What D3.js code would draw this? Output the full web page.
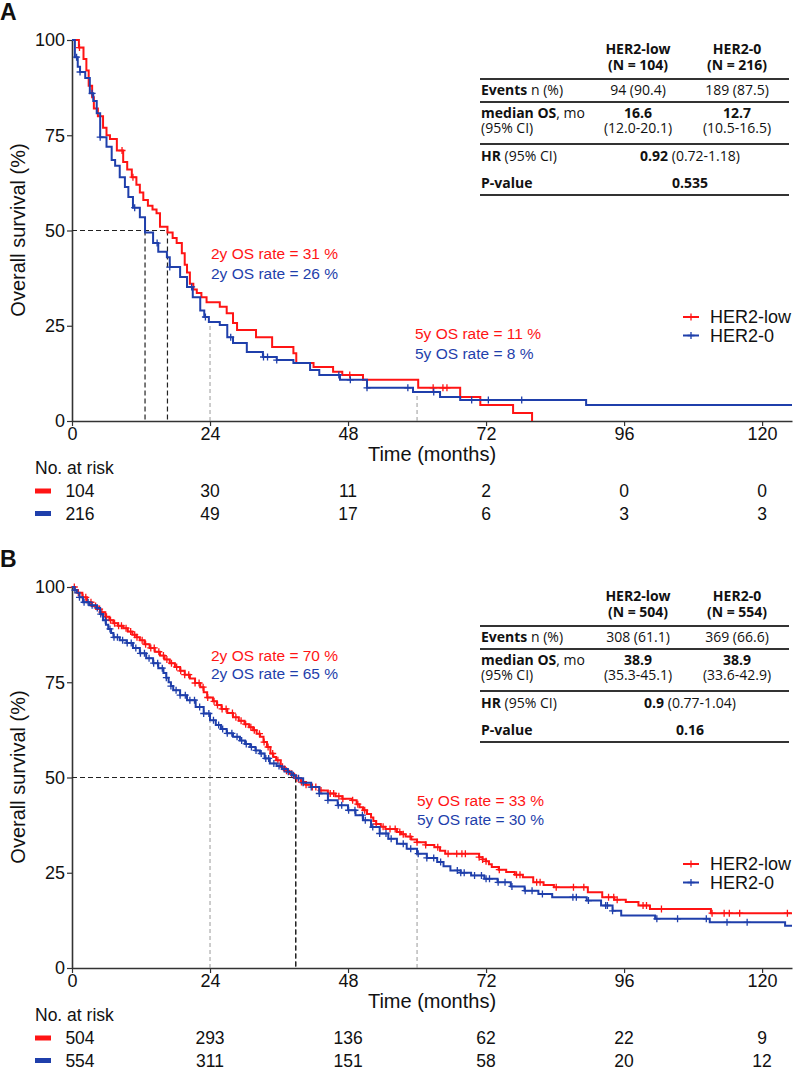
<!DOCTYPE html>
<html>
<head>
<meta charset="utf-8">
<script src="https://cdn.jsdelivr.net/npm/d3@7"></script>
<style>
body { margin: 0; background: #fff; }
svg text { font-family: "Liberation Sans", Arial, sans-serif; fill: #111; }
.tbl text { font-family: "Open Sans", sans-serif; font-size: 14px; }
</style>
</head>
<body>
<script>
var timeTicks = [0, 24, 48, 72, 96, 120];
var survTicks = [0, 25, 50, 75, 100];
var groupNames = ['HER2-low', 'HER2-0'];

// ---- panel A : [months, survival %] at each step
var aLowSteps = [[0,100],[1.2,98],[2.0,95],[2.5,92],[2.9,88],[3.5,85],[3.8,82],[4.5,80],[5.4,77],[6.0,75],[6.6,74],[7.8,71],[8.9,68],[9.6,66],[10.4,64],[11.2,62],[11.8,60],[12.4,58],[13.2,56.5],[14.0,55.5],[14.7,54.5],[15.3,51],[16.6,49.5],[17.5,48],[18.2,46.7],[19.1,44],[19.6,41],[20.0,39],[20.5,36],[21.1,34.5],[21.7,33.6],[22.5,32.5],[23.4,31.2],[25.7,30],[26.9,28.3],[28.0,25.7],[28.7,23.9],[32.0,22],[34.8,19.4],[38.5,17.8],[39.0,15.2],[42.0,14.2],[45.4,12.9],[47.0,12.1],[50.6,10.8],[60.2,8.7],[67.5,6.3],[71.0,4.2],[76.7,2.1],[80.0,0]];
var aZeroSteps = [[0,100],[0.5,95.5],[1.0,93],[1.4,91.6],[2.3,90],[3.1,86],[3.7,84],[4.3,80.8],[4.9,74.5],[6.0,72],[6.9,68.5],[7.5,67],[8.3,64],[9.2,61.4],[9.8,58.8],[10.6,56],[11.8,53.5],[12.7,49.5],[14.1,46.7],[15.0,44.4],[16.5,43],[17.0,40.4],[18.8,37.8],[20.0,35.2],[21.0,32.5],[22.3,29],[23.0,27.3],[23.8,26],[25.7,25.2],[27.0,22],[28.0,20.5],[30.4,18.1],[33.2,16.8],[35.6,16],[38.5,15.2],[41.4,13.4],[43.0,12.1],[46.6,10.8],[51.3,8.7],[59.3,7.6],[64.0,6.3],[67.5,5.5],[89.4,4.2]];
var aLowCensor = [1.3, 8.7, 10.6, 48.3, 62.8, 64.5, 65.2];
var aZeroCensor = [0.8, 1.4, 3.5, 4.9, 10.9, 14.8, 17, 20.8, 23.2, 27.6, 33.3, 34.0, 35.6, 46.4, 48.4, 51.3, 58.4, 62.9, 69.5, 72.4, 78.2];
var aRiskLow = [104, 30, 11, 2, 0, 0];
var aRiskZero = [216, 49, 17, 6, 3, 3];
var aMedians = [16.6, 12.7];
var aRate2y = [31, 26];
var aRate5y = [11, 8];
var aHeadN = ['(N = 104)', '(N = 216)'];
var aEvents = ['94 (90.4)', '189 (87.5)'];
var aMedOS = ['16.6', '12.7'];
var aMedCI = ['(12.0-20.1)', '(10.5-16.5)'];
var aHR = ['0.92', ' (0.72-1.18)'];
var aP = '0.535';

// ---- panel B
var bLowSteps = [[0,100],[0.5,99.2],[1.0,98.5],[1.8,97.3],[2.6,96],[3.4,95],[4.2,94.2],[4.9,93.4],[5.8,92.2],[6.5,91.3],[7.2,90.5],[8.0,89.8],[8.9,89.2],[9.7,88.3],[10.5,87.5],[11.2,86.8],[11.8,86],[12.6,85],[13.5,84],[14.4,83],[15.3,82],[16.1,81],[17.0,80],[17.9,79],[18.8,78],[19.6,77],[20.5,76],[21.4,74.8],[22.3,73.7],[22.9,72.4],[23.5,71],[24.5,70],[25.2,69],[26.0,68],[27.0,66.9],[28.0,65.8],[29.0,64.9],[30.0,64],[30.8,63.2],[31.5,62.4],[32.1,61.5],[32.7,60.7],[33.3,59.3],[33.9,58],[34.5,56.3],[35.0,55.4],[35.5,54.5],[36.3,52.8],[37.0,51.8],[37.8,51],[38.6,50.2],[38.9,49.8],[39.8,48.8],[40.7,48.1],[41.6,47.5],[43.0,46.6],[44.5,45.8],[45.8,45.1],[47.0,44.4],[48.7,44],[49.5,43],[50.0,42.2],[50.6,41.4],[51.3,40.4],[52.0,39.5],[52.4,38.6],[52.9,37.8],[53.7,37.1],[54.5,36.5],[56.5,35.7],[57.2,35.1],[58.0,34.5],[59.0,33.7],[60.0,33],[61.5,32.3],[63.0,31.7],[64.0,30.8],[64.9,30],[70.8,29.1],[71.4,28.5],[72.0,28],[72.5,27.2],[73.0,26.5],[74.2,25.8],[75.5,25.2],[77.0,24.5],[78.4,23.8],[80.2,22.5],[82.0,21.8],[83.8,21.2],[89.7,19.9],[92.2,18.6],[94.3,17.9],[96.3,17.3],[98.5,16.4],[100.5,15.5],[111.1,14.4]];
var bZeroSteps = [[0,100],[0.4,99.2],[0.8,98.5],[1.3,97.3],[1.9,96],[3.0,95.2],[4.3,94.5],[4.9,92.9],[5.4,91.3],[5.9,90.1],[6.3,89],[6.8,87.9],[7.2,86.8],[8.3,86],[9.5,85.3],[10.6,84],[11.8,82.6],[12.9,81.3],[14.1,80],[15.0,78.7],[15.9,77.4],[16.4,76.2],[16.8,75],[17.2,74],[17.6,72.9],[18.8,71.6],[20.0,70.3],[21.5,68.5],[22.9,66.8],[24.0,65],[25.0,63.8],[25.9,62.7],[26.9,61.6],[28.0,60.7],[29.2,59.7],[30.1,58.8],[31.0,58],[31.9,57.1],[32.7,56.3],[33.5,55],[34.4,53.7],[35.6,53],[36.5,52.2],[37.5,51.5],[38.2,50.6],[38.9,49.8],[40.2,48.6],[41.6,47.5],[43.0,45.8],[44.5,44],[46.2,42.7],[48.0,41.4],[49.3,40.1],[50.6,38.8],[52.0,37],[53.5,35.3],[55.0,33.9],[56.5,32.6],[58.2,31.3],[60.0,30],[61.7,28.9],[63.5,27.8],[64.6,26.7],[65.8,25.6],[67.6,25],[69.4,24.3],[71.7,23.4],[74.0,22.5],[76.3,21.4],[78.7,20.3],[81.1,19.4],[83.5,18.6],[89.5,17.7],[92.0,16.4],[94.0,15],[95.5,13.8],[101.4,12.9],[110.9,12],[124.0,11.1]];
var bLowCensor = [0.4,1.1,1.9,2.4,3.3,4.1,4.8,5.2,6.0,6.7,7.4,8.1,8.6,9.4,10.2,10.9,11.3,12.2,12.8,13.7,14.3,15.1,15.9,16.5,17.3,18.2,18.9,19.6,20.3,21.4,22.1,22.8,23.6,24.7,25.3,26.1,26.8,27.9,28.5,29.4,30.2,31.1,31.7,32.6,33.4,34.1,34.9,35.8,36.6,37.3,38.2,39.1,39.9,40.7,41.8,42.4,43.3,44.9,45.5,46.4,47.1,48.8,49.7,50.9,52.9,54.1,55.3,56.2,57.0,57.6,58.8,60.0,61.5,63.6,65.4,66.9,67.8,68.4,70.8,71.4,72.0,74.3,77.3,77.9,80.8,81.4,84.2,87.2,89.0,93.3,94.2,94.8,99.3,99.9,102.5,111.3,113.4,114.3,116.1,124.4];
var bZeroCensor = [0.5,1.3,2.1,2.8,3.5,4.4,5.0,5.8,6.6,7.3,7.9,8.8,9.6,10.3,11.1,11.9,12.6,13.4,14.2,14.9,15.7,16.4,17.2,18.1,18.8,19.7,20.5,21.3,22.2,22.9,23.8,24.6,25.5,26.2,27.0,27.8,28.7,29.5,30.3,31.2,32.0,32.9,33.7,34.2,35.1,36.0,36.9,37.6,38.5,39.4,40.2,41.6,43.0,44.5,46.3,46.9,48.1,49.2,50.5,51.0,52.3,53.5,54.6,55.5,57.6,58.9,60.2,61.7,62.9,64.1,67.0,67.6,68.2,70.0,71.2,72.0,72.6,74.1,75.3,76.5,78.8,80.0,81.8,87.1,87.7,89.8,92.8,93.1,94.0,101.7,105.3,110.3,113.9,117.4];
var bRiskLow = [504, 293, 136, 62, 22, 9];
var bRiskZero = [554, 311, 151, 58, 20, 12];
var bMedians = [38.9, 38.9];
var bRate2y = [70, 65];
var bRate5y = [33, 30];
var bHeadN = ['(N = 504)', '(N = 554)'];
var bEvents = ['308 (61.1)', '369 (66.6)'];
var bMedOS = ['38.9', '38.9'];
var bMedCI = ['(35.3-45.1)', '(33.6-42.9)'];
var bHR = ['0.9', ' (0.77-1.04)'];
var bP = '0.16';

var colors = ['#ff1414', '#1f3fab'];
var xMax = 125.2;

var svg = d3.select('body').append('svg')
  .attr('width', 795)
  .attr('height', 1072);

var x = d3.scaleLinear().domain([0, xMax]).range([72, 792]);
var y = d3.scaleLinear().domain([0, 100]).range([421, 40]);

function survAt(steps, t) {
  var s = steps[0][1];
  for (var i = 0; i < steps.length; i++) {
    if (steps[i][0] <= t) s = steps[i][1];
  }
  return s;
}

var plus = 'M-3.5,0H3.5M0,-3.5V3.5';

function drawPanel(p) {
  var g = svg.append('g').attr('transform', 'translate(0,' + p.oy + ')');

  g.append('text')
    .attr('x', 0).attr('y', 20)
    .style('font-size', '23px').style('font-weight', 'bold')
    .text(p.letter);

  // axes
  var yAxis = g.append('g')
    .attr('transform', 'translate(72,0)')
    .call(d3.axisLeft(y).tickValues(survTicks).tickSize(5).tickSizeOuter(0).tickPadding(2));
  var xAxis = g.append('g')
    .attr('transform', 'translate(0,421)')
    .call(d3.axisBottom(x).tickValues(timeTicks).tickSize(5).tickSizeOuter(0).tickPadding(1.5));
  [xAxis, yAxis].forEach(function(a) {
    a.select('.domain').attr('stroke', '#333').attr('stroke-width', 1.6);
    a.selectAll('.tick line').attr('stroke', '#333').attr('stroke-width', 1.2);
    a.selectAll('.tick text').style('font-size', '18px').attr('fill', '#111')
      .style('font-family', '"Liberation Sans", Arial, sans-serif');
  });

  g.append('text')
    .attr('transform', 'translate(25,230) rotate(-90)')
    .attr('text-anchor', 'middle')
    .style('font-size', '20px')
    .text('Overall survival (%)');

  g.append('text')
    .attr('x', 432).attr('y', 461)
    .attr('text-anchor', 'middle')
    .style('font-size', '20px')
    .text('Time (months)');

  // landmark lines at 2y and 5y
  [24, 60].forEach(function(t) {
    var top = Math.min(survAt(p.steps[0], t), survAt(p.steps[1], t));
    g.append('line')
      .attr('x1', x(t)).attr('x2', x(t))
      .attr('y1', y(0)).attr('y2', y(top))
      .attr('stroke', '#9a9a9a').attr('stroke-width', 1)
      .attr('stroke-dasharray', '4,3');
  });

  // median lines
  g.append('line')
    .attr('x1', x(0)).attr('x2', x(d3.max(p.medians)))
    .attr('y1', y(50)).attr('y2', y(50))
    .attr('stroke', '#222').attr('stroke-width', 1.2)
    .attr('stroke-dasharray', '5,3');
  p.medians.forEach(function(m) {
    g.append('line')
      .attr('x1', x(m)).attr('x2', x(m))
      .attr('y1', y(50)).attr('y2', y(0))
      .attr('stroke', '#222').attr('stroke-width', 1.2)
      .attr('stroke-dasharray', '5,3');
  });

  var line = d3.line()
    .x(function(d) { return x(d[0]); })
    .y(function(d) { return y(d[1]); })
    .curve(d3.curveStepAfter);

  p.steps.forEach(function(steps, i) {
    var pts = steps.slice();
    var last = pts[pts.length - 1];
    if (last[1] > 0) pts.push([xMax, last[1]]);
    g.append('path')
      .datum(pts)
      .attr('d', line)
      .attr('fill', 'none')
      .attr('stroke', colors[i])
      .attr('stroke-width', 2);

    g.selectAll(null)
      .data(p.censor[i])
      .enter()
      .append('path')
      .attr('d', plus)
      .attr('transform', function(t) {
        return 'translate(' + x(t) + ',' + y(survAt(steps, t)) + ')';
      })
      .attr('stroke', colors[i])
      .attr('stroke-width', 1.3);
  });

  // rate annotations
  [0, 1].forEach(function(i) {
    g.append('text')
      .attr('x', p.ann2y[0]).attr('y', p.ann2y[1] + i * p.ann2y[2])
      .style('font-size', '15.5px').style('fill', colors[i])
      .text('2y OS rate = ' + p.rate2y[i] + ' %');
    g.append('text')
      .attr('x', p.ann5y[0]).attr('y', p.ann5y[1] + i * p.ann5y[2])
      .style('font-size', '15.5px').style('fill', colors[i])
      .text('5y OS rate = ' + p.rate5y[i] + ' %');
  });

  // legend
  groupNames.forEach(function(name, i) {
    var cy = 317 + i * 18.5;
    g.append('line')
      .attr('x1', 683).attr('x2', 699)
      .attr('y1', cy).attr('y2', cy)
      .attr('stroke', colors[i]).attr('stroke-width', 2);
    g.append('path')
      .attr('d', plus)
      .attr('transform', 'translate(691,' + cy + ')')
      .attr('stroke', colors[i]).attr('stroke-width', 1.3);
    g.append('text')
      .attr('x', 710).attr('y', cy + 6.3)
      .style('font-size', '18px')
      .text(name);
  });

  // number at risk
  g.append('text')
    .attr('x', 35).attr('y', 474)
    .style('font-size', '17.5px')
    .text('No. at risk');
  p.risk.forEach(function(row, i) {
    var base = 497 + i * 22.5;
    g.append('rect')
      .attr('x', 35).attr('y', base - 8.5)
      .attr('width', 16).attr('height', 5)
      .attr('fill', colors[i]);
    g.selectAll(null)
      .data(row)
      .enter()
      .append('text')
      .attr('x', function(d, j) { return x(timeTicks[j]) + (j === 0 ? 8 : 0); })
      .attr('y', base)
      .attr('text-anchor', 'middle')
      .style('font-size', '17.5px')
      .text(function(d) { return d; });
  });

  // summary table
  var tb = g.append('g').attr('class', 'tbl');
  var c1 = 638, c2 = 737, cm = 690, lx = 481;
  [[c1, groupNames[0], p.headN[0]], [c2, groupNames[1], p.headN[1]]].forEach(function(h) {
    tb.append('text').attr('x', h[0]).attr('y', 54).attr('text-anchor', 'middle')
      .style('font-weight', 'bold').text(h[1]);
    tb.append('text').attr('x', h[0]).attr('y', 70).attr('text-anchor', 'middle')
      .style('font-weight', 'bold').text(h[2]);
  });
  [79, 102, 144, 195].forEach(function(ry) {
    tb.append('line')
      .attr('x1', 480).attr('x2', 789)
      .attr('y1', ry).attr('y2', ry)
      .attr('stroke', '#333').attr('stroke-width', 1.8);
  });
  function rich(xp, yp, parts, anchor) {
    var t = tb.append('text').attr('x', xp).attr('y', yp).attr('text-anchor', anchor || 'start');
    parts.forEach(function(pt) {
      t.append('tspan').style('font-weight', pt[1] ? 'bold' : 'normal').text(pt[0]);
    });
  }
  rich(lx, 95, [['Events', 1], [' n (%)', 0]]);
  rich(lx, 118, [['median OS', 1], [', mo', 0]]);
  rich(lx, 133, [['(95% CI)', 0]]);
  rich(lx, 161, [['HR', 1], [' (95% CI)', 0]]);
  rich(lx, 188, [['P-value', 1]]);
  rich(c1, 95, [[p.events[0], 0]], 'middle');
  rich(c2, 95, [[p.events[1], 0]], 'middle');
  rich(c1, 118, [[p.medOS[0], 1]], 'middle');
  rich(c2, 118, [[p.medOS[1], 1]], 'middle');
  rich(c1, 133, [[p.medCI[0], 0]], 'middle');
  rich(c2, 133, [[p.medCI[1], 0]], 'middle');
  rich(cm, 161, [[p.hr[0], 1], [p.hr[1], 0]], 'middle');
  rich(cm, 188, [[p.pval, 1]], 'middle');
}

drawPanel({
  oy: 0, letter: 'A',
  steps: [aLowSteps, aZeroSteps], censor: [aLowCensor, aZeroCensor],
  medians: aMedians, rate2y: aRate2y, rate5y: aRate5y,
  ann2y: [211, 258.5, 20], ann5y: [415, 338.5, 20],
  risk: [aRiskLow, aRiskZero],
  headN: aHeadN, events: aEvents, medOS: aMedOS, medCI: aMedCI, hr: aHR, pval: aP
});

drawPanel({
  oy: 547, letter: 'B',
  steps: [bLowSteps, bZeroSteps], censor: [bLowCensor, bZeroCensor],
  medians: bMedians, rate2y: bRate2y, rate5y: bRate5y,
  ann2y: [211, 113.5, 18.5], ann5y: [417, 258.5, 19],
  risk: [bRiskLow, bRiskZero],
  headN: bHeadN, events: bEvents, medOS: bMedOS, medCI: bMedCI, hr: bHR, pval: bP
});
</script>
</body>
</html>
